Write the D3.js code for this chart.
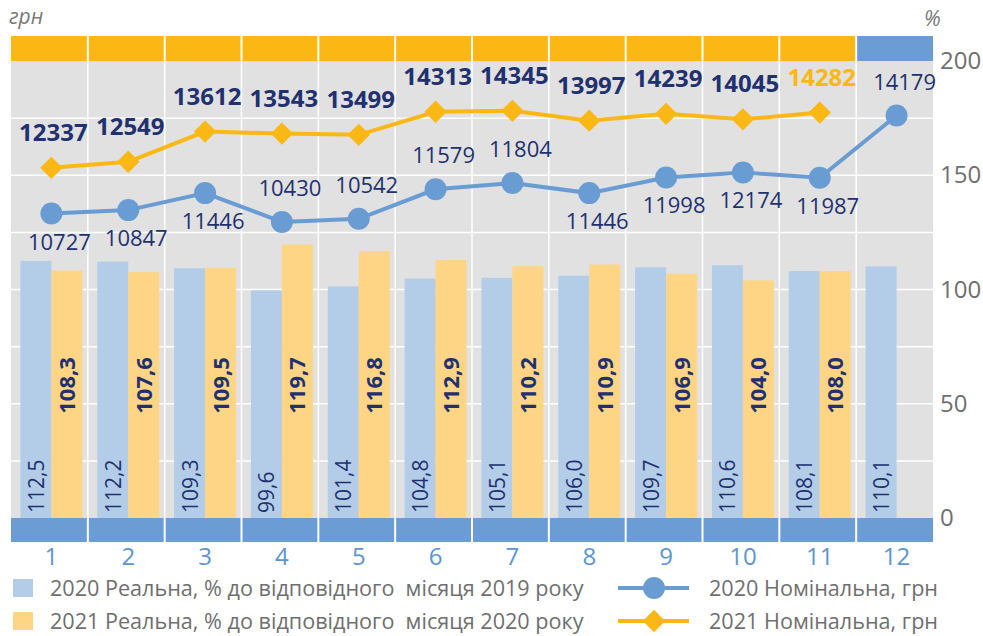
<!DOCTYPE html>
<html>
<head>
<meta charset="utf-8">
<script src="https://cdn.jsdelivr.net/npm/d3@7/dist/d3.min.js"></script>
<style>
  html, body { margin: 0; padding: 0; background: #ffffff; }
  svg { display: block; }
  text { font-family: "Open Sans", "Noto Sans", sans-serif; }
</style>
</head>
<body>
<svg id="chart" width="983" height="636"></svg>
<script>
// ---------------- data ----------------
const months = ["1","2","3","4","5","6","7","8","9","10","11","12"];
const real2020 = [112.5, 112.2, 109.3, 99.6, 101.4, 104.8, 105.1, 106.0, 109.7, 110.6, 108.1, 110.1];
const real2021 = [108.3, 107.6, 109.5, 119.7, 116.8, 112.9, 110.2, 110.9, 106.9, 104.0, 108.0, null];
const nominal2020 = [10727, 10847, 11446, 10430, 10542, 11579, 11804, 11446, 11998, 12174, 11987, 14179];
const nominal2021 = [12337, 12549, 13612, 13543, 13499, 14313, 14345, 13997, 14239, 14045, 14282, null];
const pctTicks = [0, 50, 100, 150, 200];
const pctGrid = [25, 50, 75, 100, 125, 150, 175];
const legendBars = ["2020 Реальна, % до відповідного  місяця 2019 року",
                    "2021 Реальна, % до відповідного  місяця 2020 року"];
const legendLines = ["2020 Номінальна, грн", "2021 Номінальна, грн"];
// label placement of 2020 nominal values relative to their markers
const nominal2020LabelSide = ["below","below","below","above","above","above","above","below","below","below","below","above"];

// ---------------- layout ----------------
const C = {
  gray: "#E1E1E1", blueBar: "#B3CCE8", orangeBar: "#FDD584",
  blueLine: "#6A9CD4", orangeLine: "#FBB713", strip: "#FBB713", stripBlue: "#6B9CD3",
  navy: "#213170", axis: "#6F6F6F", xlab: "#5C95D2"
};
const left = 11, right = 933, plotTop = 61, plotBottom = 518;
const stripTop = 36, bottomStrip = 542;

const svg = d3.select("#chart");

const x = d3.scaleBand().domain(months).range([left, right]).paddingInner(0).paddingOuter(0);
const yPct = d3.scaleLinear().domain([0, 200]).range([plotBottom, plotTop]);
const yUah = d3.scaleLinear().domain([0, 16100]).range([plotBottom, plotTop]);
const series = ["2020", "2021"];
const groupW = 62;
const x1 = d3.scaleBand().domain(series).range([0, groupW]).padding(0);
const cx = m => x(m) + x.bandwidth() / 2 + 2;
const fmt = v => d3.format(".1f")(v).replace(".", ",");

// background
svg.append("rect").attr("x", left).attr("y", plotTop).attr("width", right - left)
  .attr("height", plotBottom - plotTop).attr("fill", C.gray);

// horizontal grid
svg.append("g").selectAll("line").data(pctGrid).join("line")
  .attr("x1", left).attr("x2", right)
  .attr("y1", d => yPct(d)).attr("y2", d => yPct(d))
  .attr("stroke", "#ffffff").attr("stroke-width", 1.5);

// vertical grid (column separators)
svg.append("g").selectAll("line").data(months.slice(1)).join("line")
  .attr("x1", d => x(d)).attr("x2", d => x(d))
  .attr("y1", stripTop).attr("y2", bottomStrip)
  .attr("stroke", "#ffffff").attr("stroke-width", 1.5);

// bars
const barData = months.map((m, i) => ({ m, i, v2020: real2020[i], v2021: real2021[i] }));
const groups = svg.append("g").selectAll("g").data(barData).join("g")
  .attr("transform", d => `translate(${cx(d.m) - groupW / 2},0)`);
groups.append("rect")
  .attr("x", x1("2020")).attr("width", x1.bandwidth())
  .attr("y", d => yPct(d.v2020)).attr("height", d => yPct(0) - yPct(d.v2020))
  .attr("fill", C.blueBar);
groups.filter(d => d.v2021 != null).append("rect")
  .attr("x", x1("2021")).attr("width", x1.bandwidth())
  .attr("y", d => yPct(d.v2021)).attr("height", d => yPct(0) - yPct(d.v2021))
  .attr("fill", C.orangeBar);

// top strip
svg.append("g").selectAll("rect").data(months).join("rect")
  .attr("x", d => x(d)).attr("width", x.bandwidth())
  .attr("y", stripTop).attr("height", plotTop - stripTop)
  .attr("fill", (d, i) => nominal2021[i] != null ? C.strip : C.stripBlue);
// bottom strip
svg.append("g").selectAll("rect").data(months).join("rect")
  .attr("x", d => x(d)).attr("width", x.bandwidth())
  .attr("y", plotBottom).attr("height", bottomStrip - plotBottom)
  .attr("fill", C.stripBlue);
// separators in strips
svg.append("g").selectAll("line").data(months.slice(1)).join("line")
  .attr("x1", d => x(d)).attr("x2", d => x(d))
  .attr("y1", stripTop).attr("y2", plotTop)
  .attr("stroke", "#ffffff").attr("stroke-width", 2);
svg.append("g").selectAll("line").data(months.slice(1)).join("line")
  .attr("x1", d => x(d)).attr("x2", d => x(d))
  .attr("y1", plotBottom).attr("y2", bottomStrip)
  .attr("stroke", "#ffffff").attr("stroke-width", 2);

// bar labels
groups.append("text")
  .attr("transform", d => `translate(${x1("2020") + x1.bandwidth() / 2 + 8},${yPct(0) - 5}) rotate(-90)`)
  .attr("font-size", 21).attr("fill", C.navy)
  .text(d => fmt(d.v2020));
groups.filter(d => d.v2021 != null).append("text")
  .attr("transform", d => `translate(${x1("2021") + x1.bandwidth() / 2 + 8},${yPct(58)}) rotate(-90)`)
  .attr("text-anchor", "middle")
  .attr("font-size", 22).attr("font-weight", "bold").attr("fill", C.navy)
  .text(d => fmt(d.v2021));

// lines
const line2020 = months.map((m, i) => ({ m, i, v: nominal2020[i] }));
const line2021 = months.map((m, i) => ({ m, i, v: nominal2021[i] })).filter(d => d.v != null);
const lineGen = d3.line().x(d => cx(d.m)).y(d => yUah(d.v));

svg.append("path").datum(line2021).attr("d", lineGen)
  .attr("fill", "none").attr("stroke", C.orangeLine).attr("stroke-width", 4);
svg.append("path").datum(line2020).attr("d", lineGen)
  .attr("fill", "none").attr("stroke", C.blueLine).attr("stroke-width", 4);

const diamond = d3.symbol().type(d3.symbolSquare).size(250);
svg.append("g").selectAll("path").data(line2021).join("path")
  .attr("d", diamond())
  .attr("transform", d => `translate(${cx(d.m)},${yUah(d.v)}) rotate(45)`)
  .attr("fill", C.orangeLine);
svg.append("g").selectAll("circle").data(line2020).join("circle")
  .attr("cx", d => cx(d.m)).attr("cy", d => yUah(d.v)).attr("r", 11)
  .attr("fill", C.blueLine);

// line labels
svg.append("g").selectAll("text").data(line2021).join("text")
  .attr("x", d => cx(d.m) + 2).attr("y", d => yUah(d.v) - 27)
  .attr("text-anchor", "middle")
  .attr("font-size", 24).attr("font-weight", "bold")
  .attr("fill", (d, i) => i === line2021.length - 1 ? C.orangeLine : C.navy)
  .text(d => d.v);
svg.append("g").selectAll("text").data(line2020).join("text")
  .attr("x", d => cx(d.m) + 8)
  .attr("y", d => yUah(d.v) + (nominal2020LabelSide[d.i] === "above" ? -26 : 36))
  .attr("text-anchor", "middle")
  .attr("font-size", 22).attr("fill", C.navy)
  .text(d => d.v);

// right axis
const axisR = d3.axisRight(yPct).tickValues(pctTicks).tickSize(0).tickPadding(7);
const gR = svg.append("g").attr("transform", `translate(${right},0)`).call(axisR);
gR.select(".domain").remove();
gR.selectAll("text").attr("font-size", 24).attr("fill", C.axis)
  .attr("font-family", "'Open Sans', sans-serif");

// bottom axis (month numbers)
const axisB = d3.axisBottom(x).tickSize(0).tickPadding(4);
const gB = svg.append("g").attr("transform", `translate(2,${bottomStrip + 2})`).call(axisB);
gB.select(".domain").remove();
gB.selectAll("text").attr("font-size", 24).attr("fill", C.xlab)
  .attr("font-family", "'Open Sans', sans-serif");

// unit labels
svg.append("text").attr("x", 9).attr("y", 24).attr("font-size", 21)
  .attr("font-style", "italic").attr("fill", "#7A7A7A").text("грн");
svg.append("text").attr("x", 924).attr("y", 26).attr("font-size", 21)
  .attr("font-style", "italic").attr("fill", "#7A7A7A").text("%");

// legend
const legBarColors = [C.blueBar, C.orangeBar];
const legY = [588, 621];
legendBars.forEach((t, i) => {
  svg.append("rect").attr("x", 13).attr("y", legY[i] - 9).attr("width", 20).attr("height", 18)
    .attr("fill", legBarColors[i]);
  svg.append("text").attr("x", 50).attr("y", legY[i] + 8).attr("font-size", 21.6)
    .attr("fill", C.axis).style("white-space", "pre").text(t);
});
const legLineColors = [C.blueLine, C.orangeLine];
legendLines.forEach((t, i) => {
  svg.append("line").attr("x1", 618).attr("x2", 689).attr("y1", legY[i]).attr("y2", legY[i])
    .attr("stroke", legLineColors[i]).attr("stroke-width", 4);
  if (i === 0) {
    svg.append("circle").attr("cx", 654).attr("cy", legY[i]).attr("r", 11).attr("fill", C.blueLine);
  } else {
    svg.append("path").attr("d", diamond())
      .attr("transform", `translate(654,${legY[i]}) rotate(45)`).attr("fill", C.orangeLine);
  }
  svg.append("text").attr("x", 709).attr("y", legY[i] + 8).attr("font-size", 21.6)
    .attr("fill", C.axis).text(t);
});
</script>
</body>
</html>
